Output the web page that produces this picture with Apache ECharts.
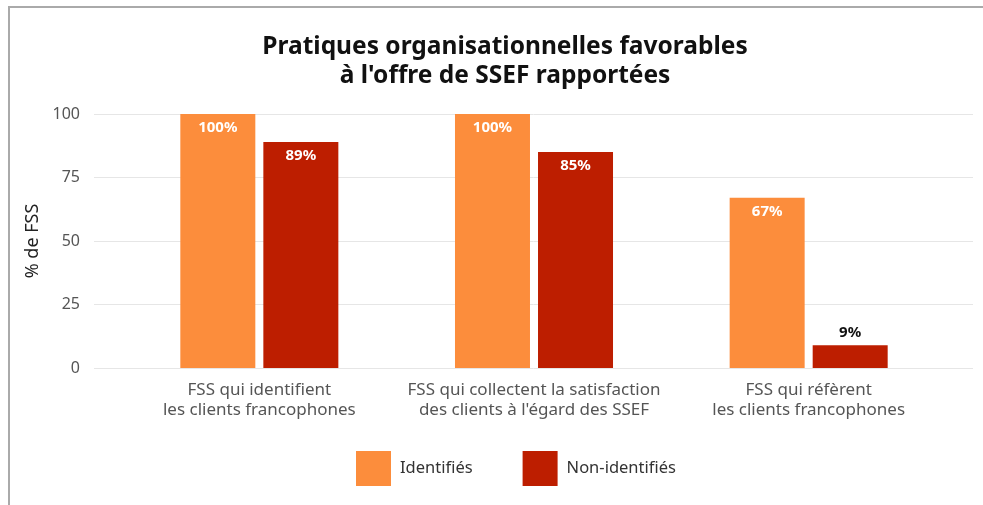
<!DOCTYPE html>
<html>
<head>
<meta charset="utf-8">
<script src="https://cdn.jsdelivr.net/npm/echarts@6/dist/echarts.min.js"></script>
<style>
  html, body { margin: 0; padding: 0; background: #fff; }
  #chart { width: 983px; height: 505px; }
</style>
</head>
<body>
<div id="chart"></div>
<script>
const categories = [
  'FSS qui identifient\nles clients francophones',
  'FSS qui collectent la satisfaction\ndes clients à l\'égard des SSEF',
  'FSS qui réfèrent\nles clients francophones'
]
const identifies = [100, 100, 67]
const nonIdentifies = [89, 85, 9]
const yTicks = [0, 25, 50, 75, 100]

const font = '"Noto Sans", Lato, sans-serif'
const chart = echarts.init(document.getElementById('chart'))

chart.setOption({
  animation: false,
  textStyle: { fontFamily: font },
  title: {
    text: 'Pratiques organisationnelles favorables\nà l\'offre de SSEF rapportées',
    left: 500,
    textAlign: 'center',
    top: 28,
    textStyle: { fontSize: 24.5, fontWeight: 'bold', color: '#111', lineHeight: 29, fontFamily: font }
  },
  legend: {
    bottom: 14,
    left: 351,
    itemWidth: 35,
    itemHeight: 35,
    itemGap: 50,
    icon: 'rect',
    textStyle: { fontSize: 16.5, color: '#333', fontFamily: font, padding: [0, 0, 0, 4] },
    data: ['Identifiés', 'Non-identifiés']
  },
  graphic: [{
    type: 'polyline',
    silent: true,
    shape: { points: [[9, 505], [9, 7], [983, 7]] },
    style: { stroke: '#aaa', lineWidth: 2, fill: null }
  }],
  grid: [
    { left: 122, right: 37, top: 114, bottom: 137 },
    { left: 94, right: 10, top: 114, bottom: 137 }
  ],
  xAxis: [{
    type: 'category',
    gridIndex: 0,
    data: categories,
    axisLine: { show: false },
    axisTick: { show: false },
    axisLabel: { color: '#555', fontSize: 17, lineHeight: 20, margin: 12, interval: 0 }
  }, {
    type: 'category',
    gridIndex: 1,
    data: categories,
    show: false
  }],
  yAxis: [{
    type: 'value',
    gridIndex: 0,
    min: 0,
    max: 100,
    interval: 25,
    show: false
  }, {
    type: 'value',
    gridIndex: 1,
    min: yTicks[0],
    max: yTicks[yTicks.length - 1],
    interval: 25,
    name: '% de FSS',
    nameLocation: 'middle',
    nameGap: 47,
    nameTextStyle: { fontSize: 18, color: '#222', fontFamily: font },
    axisLine: { show: false },
    axisTick: { show: false },
    axisLabel: { color: '#555', fontSize: 16, margin: 14 },
    splitLine: { lineStyle: { color: '#e6e6e6', width: 1 } }
  }],
  series: [{
    name: 'Identifiés',
    type: 'bar',
    xAxisIndex: 0,
    yAxisIndex: 0,
    data: identifies,
    barWidth: 75,
    barGap: '10.7%',
    itemStyle: { color: '#fc8d3c' },
    label: {
      show: true,
      position: 'insideTop',
      distance: 6,
      formatter: '{c}%',
      color: '#fff',
      fontSize: 15,
      fontWeight: 'bold'
    }
  }, {
    name: 'Non-identifiés',
    type: 'bar',
    xAxisIndex: 0,
    yAxisIndex: 0,
    data: nonIdentifies.map(v => v < 20
      ? { value: v, label: { position: 'top', color: '#111', distance: 5 } }
      : v),
    barWidth: 75,
    itemStyle: { color: '#bd1e00' },
    label: {
      show: true,
      position: 'insideTop',
      distance: 6,
      formatter: '{c}%',
      color: '#fff',
      fontSize: 15,
      fontWeight: 'bold'
    }
  }]
})
</script>
</body>
</html>
